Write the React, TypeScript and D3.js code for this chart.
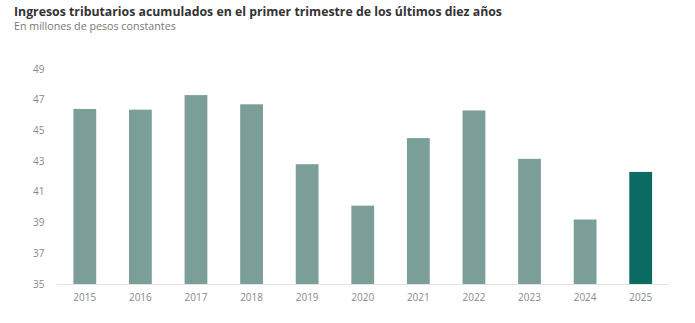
import React from "react";
import * as d3 from "d3";

const years = ["2015","2016","2017","2018","2019","2020","2021","2022","2023","2024","2025"];
const values = [46.4, 46.35, 47.3, 46.7, 42.8, 40.1, 44.5, 46.3, 43.15, 39.2, 42.3];
const yTicks = [35, 37, 39, 41, 43, 45, 47, 49];
const title = "Ingresos tributarios acumulados en el primer trimestre de los últimos diez años";
const subtitle = "En millones de pesos constantes";

export default function App() {
  const W = 695, H = 323;
  const x = d3.scaleBand<string>().domain(years).range([57, 668.5]).paddingInner(0.59).paddingOuter(0.295);
  const y = d3.scaleLinear().domain([35, 49]).range([284, 69]);
  const font = "'Open Sans', sans-serif";
  return (
    <svg width={W} height={H} style={{ position: "absolute", left: 0, top: 0, background: "#fff" }} fontFamily={font}>
      <text x={14} y={16} fontSize={12.3} fontWeight={700} fill="#333">{title}</text>
      <text x={14} y={30} fontSize={10.7} fill="#777">{subtitle}</text>
      {yTicks.map(t => (
        <text key={t} x={33} y={y(t)} dy="0.35em" fontSize={10} fill="#888">{t}</text>
      ))}
      {years.map((yr, i) => (
        <rect key={yr} x={x(yr)} y={y(values[i])} width={x.bandwidth()} height={y(35) - y(values[i])}
          fill={yr === "2025" ? "#0b6b62" : "#7c9e99"} />
      ))}
      <line x1={57} x2={668.5} y1={284.5} y2={284.5} stroke="#e2e2e2" strokeWidth={1} />
      {years.map(yr => (
        <text key={yr} x={(x(yr) as number) + x.bandwidth() / 2} y={297} dy="0.35em" textAnchor="middle" fontSize={10} fill="#888">{yr}</text>
      ))}
    </svg>
  );
}
